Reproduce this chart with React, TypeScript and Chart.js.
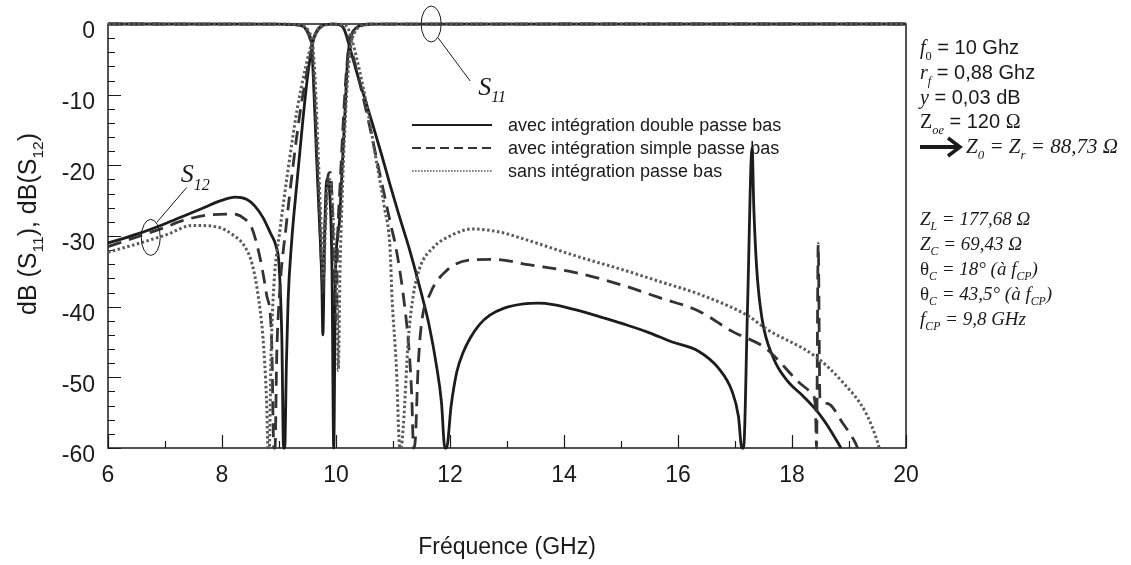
import React, { useEffect, useRef } from 'react';
import { Chart, registerables } from 'chart.js';

Chart.register(...registerables);

// ---------- DATA (GHz / dB) ----------
const freqDoubleS12 = [6, 6.56, 6.99, 7.32, 7.68, 7.98, 8.23, 8.43, 8.57, 8.72, 8.85, 8.95, 9.0, 9.05, 9.08, 9.1, 9.13, 9.16, 9.22, 9.32, 9.42, 9.5, 9.57, 9.64, 9.74, 9.86, 9.96, 10.06, 10.14, 10.22, 10.3, 10.4, 10.5, 10.65, 10.8, 10.95, 11.1, 11.3, 11.5, 11.63, 11.77, 11.85, 11.91, 11.94, 12.02, 12.12, 12.23, 12.35, 12.52, 12.7, 12.95, 13.29, 13.55, 13.81, 14.28, 14.7, 15.1, 15.5, 15.9, 16.36, 16.71, 16.95, 17.06, 17.12, 17.15, 17.22, 17.3, 17.33, 17.38, 17.47, 17.67, 17.92, 18.2, 18.45, 18.66, 18.86];
const dbDoubleS12 = [-31.0, -29.6, -28.3, -27.2, -26.0, -25.0, -24.5, -24.8, -25.7, -27.4, -29.6, -31.5, -34, -44.5, -60, -60, -48, -39, -31, -22, -13.5, -7.5, -3.6, -1.3, -0.3, -0.05, -0.02, -0.1, -0.7, -2.7, -5, -7.8, -10.4, -14.4, -18.5, -22.8, -26.9, -32.2, -38.2, -42.5, -48.7, -53.5, -60, -60, -54, -49.2, -46.5, -44.5, -42.5, -41.2, -40.2, -39.6, -39.5, -39.7, -40.6, -41.6, -42.6, -43.7, -45.0, -46.3, -48.7, -52.0, -55.5, -60, -60, -40, -17.5, -26, -34.5, -41.5, -47.2, -50.5, -52.7, -54.9, -57.3, -60];

const freqSimpleS12 = [6, 6.56, 6.99, 7.32, 7.8, 8.2, 8.4, 8.52, 8.67, 8.78, 8.87, 8.91, 8.93, 8.96, 9.02, 9.12, 9.24, 9.37, 9.49, 9.57, 9.65, 9.76, 9.86, 9.96, 10.06, 10.16, 10.23, 10.36, 10.55, 10.75, 10.95, 11.06, 11.21, 11.29, 11.33, 11.36, 11.39, 11.44, 11.5, 11.65, 11.94, 12.35, 12.76, 13.4, 14.16, 15.0, 15.7, 16.36, 16.95, 17.54, 18.12, 18.35, 18.41, 18.43, 18.46, 18.49, 18.62, 18.9, 19.12, 19.15];
const dbSimpleS12 = [-31.5, -30.0, -28.8, -27.8, -27.0, -26.9, -27.6, -28.8, -33.2, -38.2, -44.5, -60, -60, -47, -37, -29, -20.5, -12.5, -6.8, -3.6, -1.3, -0.3, -0.05, -0.02, -0.1, -0.9, -2.5, -6.5, -13, -20.5, -28, -32, -40.3, -47, -52.9, -60, -59, -48.7, -42.4, -38.2, -34.9, -33.4, -33.3, -34.1, -35.1, -36.9, -38.8, -40.6, -43.5, -45.9, -50.7, -52.3, -54, -60, -31.1, -52.8, -53.7, -56.6, -59.4, -60];

const freqSansS12 = [6, 6.56, 7.03, 7.48, 7.9, 8.22, 8.4, 8.53, 8.63, 8.72, 8.78, 8.81, 8.83, 8.86, 8.91, 9.02, 9.17, 9.32, 9.47, 9.58, 9.68, 9.81, 9.96, 10.11, 10.21, 10.29, 10.41, 10.55, 10.7, 10.85, 10.95, 10.98, 11.06, 11.12, 11.14, 11.18, 11.27, 11.36, 11.47, 11.71, 12.0, 12.4, 12.9, 13.4, 14.28, 15.0, 15.7, 16.36, 17.23, 17.54, 18.42, 18.89, 19.3, 19.51, 19.53];
const dbSansS12 = [-32.3, -31.0, -29.8, -28.5, -28.7, -30.0, -31.5, -34, -38.2, -44.5, -52.9, -60, -60, -47, -37, -29, -20, -12, -6, -2.6, -0.8, -0.15, -0.02, -0.1, -0.6, -2.5, -6.5, -12, -19, -26, -32, -38.2, -48.7, -60, -60, -57, -44.5, -38.2, -34.5, -31.6, -30.0, -29.0, -29.5, -30.7, -33.0, -34.7, -36.5, -38.2, -41.3, -43.1, -47.1, -50.7, -55.1, -59.4, -60];

const freqDoubleS11 = [6, 8.97, 9.27, 9.37, 9.45, 9.5, 9.54, 9.57, 9.61, 9.66, 9.71, 9.75, 9.77, 9.8, 9.84, 9.89, 9.93, 9.96, 9.99, 10.03, 10.06, 10.11, 10.16, 10.2, 10.24, 10.29, 10.36, 10.45, 10.6, 10.95, 20];
const dbDoubleS11 = [0, -0.02, -0.1, -0.2, -0.5, -1.0, -1.7, -2.6, -9, -19, -28, -36, -44, -30, -22, -24, -35, -60, -36, -30, -28, -20, -12, -5.5, -2.5, -1.2, -0.5, -0.15, -0.03, -0.01, 0];

const freqSimpleS11 = [6, 8.97, 9.32, 9.42, 9.49, 9.54, 9.58, 9.63, 9.68, 9.73, 9.77, 9.81, 9.85, 9.9, 9.94, 9.96, 10.0, 10.03, 10.07, 10.12, 10.17, 10.22, 10.27, 10.34, 10.45, 10.6, 10.95, 20];
const dbSimpleS11 = [0, -0.02, -0.1, -0.4, -1.0, -2.0, -3.5, -11, -21, -31, -38, -28, -22, -21, -27, -35, -42, -30, -23, -15, -8, -3.5, -1.6, -0.6, -0.15, -0.03, -0.01, 0];

const freqSansS11 = [6, 8.97, 9.37, 9.47, 9.53, 9.59, 9.64, 9.69, 9.74, 9.78, 9.81, 9.85, 9.89, 9.94, 9.98, 10.02, 10.04, 10.07, 10.11, 10.16, 10.21, 10.26, 10.32, 10.39, 10.51, 10.66, 10.95, 20];
const dbSansS11 = [0, -0.02, -0.1, -0.5, -1.2, -2.8, -9, -19, -29, -36, -30, -23, -22, -26, -33, -40, -49, -35, -24, -14, -7, -3, -1.3, -0.5, -0.15, -0.03, -0.01, 0];

const legendLabels = [
  'avec intégration double passe bas',
  'avec intégration simple passe bas',
  'sans intégration passe bas',
];

const xMin = 6, xMax = 20, xStep = 2;
const yMin = -60, yMax = 0, yStep = 10;
const xMinorTicks = [6, 7, 8, 9, 10, 11, 12, 13, 14, 15, 16, 17, 18, 19, 20];
const yMinorTicks = [0, -2, -4, -6, -8, -10, -12, -14, -16, -18, -20, -22, -24, -26, -28, -30, -32, -34, -36, -38, -40, -42, -44, -46, -48, -50, -52, -54, -56, -58, -60];

const xTitle = 'Fréquence (GHz)';
// callout anchors (data coordinates)
const s11Anchor = { x: 11.67, y: 0 };
const s12Anchor = { x: 6.75, y: -30.2 };

// ---------- STYLES ----------
const SANS = '"Liberation Sans", Arial, sans-serif';
const SERIF = '"Liberation Serif", "Times New Roman", serif';
const styles = [
  { color: '#1e1b1b', width: 2.8, dash: [] as number[] },
  { color: '#333333', width: 2.8, dash: [14, 8] },
  { color: '#5a5a5a', width: 3, dash: [2.5, 2.5] },
];

type Run = { t: string; serif?: boolean; it?: boolean; sub?: boolean };

function drawRuns(ctx: CanvasRenderingContext2D, x: number, y: number, runs: Run[], size: number, measureOnly = false) {
  let cx = x;
  for (const r of runs) {
    const s = r.sub ? size * 0.62 : size;
    ctx.font = `${r.it ? 'italic ' : ''}${s}px ${r.serif ? SERIF : SANS}`;
    if (!measureOnly) ctx.fillText(r.t, cx, y + (r.sub ? size * 0.28 : 0));
    cx += ctx.measureText(r.t).width;
  }
  return cx - x;
}

const paramsTop: Run[][] = [
  [{ t: 'f', serif: true, it: true }, { t: '0', serif: true, sub: true }, { t: ' = 10 Ghz' }],
  [{ t: 'r', serif: true, it: true }, { t: 'f', serif: true, it: true, sub: true }, { t: ' = 0,88 Ghz' }],
  [{ t: 'y', serif: true, it: true }, { t: ' = 0,03 dB' }],
  [{ t: 'Z', serif: true }, { t: 'oe', serif: true, it: true, sub: true }, { t: ' = 120 ' }, { t: 'Ω', serif: true }],
];
const paramArrow: Run[] = [
  { t: 'Z', serif: true, it: true }, { t: '0', serif: true, it: true, sub: true },
  { t: ' = Z', serif: true, it: true }, { t: 'r', serif: true, it: true, sub: true },
  { t: ' = 88,73 Ω', serif: true, it: true },
];
const paramsBottom: Run[][] = [
  [{ t: 'Z', serif: true, it: true }, { t: 'L', serif: true, it: true, sub: true }, { t: ' = 177,68 Ω', serif: true, it: true }],
  [{ t: 'Z', serif: true, it: true }, { t: 'C', serif: true, it: true, sub: true }, { t: ' = 69,43 Ω', serif: true, it: true }],
  [{ t: 'θ', serif: true }, { t: 'C', serif: true, it: true, sub: true }, { t: ' = 18° (à ', serif: true, it: true }, { t: 'f', serif: true, it: true }, { t: 'CP', serif: true, it: true, sub: true }, { t: ')', serif: true, it: true }],
  [{ t: 'θ', serif: true }, { t: 'C', serif: true, it: true, sub: true }, { t: ' = 43,5° (à ', serif: true, it: true }, { t: 'f', serif: true, it: true }, { t: 'CP', serif: true, it: true, sub: true }, { t: ')', serif: true, it: true }],
  [{ t: 'f', serif: true, it: true }, { t: 'CP', serif: true, it: true, sub: true }, { t: ' = 9,8 GHz', serif: true, it: true }],
];
const yTitleRuns: Run[] = [{ t: 'dB (S' }, { t: '11', sub: true }, { t: '), dB(S' }, { t: '12', sub: true }, { t: ')' }];

const framePlugin = {
  id: 'frameTicks',
  beforeDatasetsDraw(chart: any) {
    const { ctx, chartArea: a, scales } = chart;
    const x = scales.x, y = scales.y;
    ctx.save();
    ctx.strokeStyle = '#1a1a1a';
    ctx.lineWidth = 1.5;
    ctx.strokeRect(a.left, a.top, a.right - a.left, a.bottom - a.top);
    ctx.lineWidth = 1.2;
    ctx.beginPath();
    for (const v of xMinorTicks) {
      const px = Math.round(x.getPixelForValue(v)) + 0.5;
      const len = v % 2 === 0 ? 13 : 7;
      ctx.moveTo(px, a.bottom);
      ctx.lineTo(px, a.bottom - len);
    }
    for (const v of yMinorTicks) {
      const py = Math.round(y.getPixelForValue(v)) + 0.5;
      const len = v % 10 === 0 ? 13 : 7;
      ctx.moveTo(a.left, py);
      ctx.lineTo(a.left + len, py);
    }
    ctx.stroke();
    ctx.restore();
  },
  afterDraw(chart: any) {
    const { ctx, chartArea: a, scales } = chart;
    const x = scales.x, y = scales.y;
    ctx.save();
    ctx.fillStyle = '#1a1a1a';
    ctx.strokeStyle = '#1a1a1a';
    ctx.textBaseline = 'alphabetic';

    // y title (rotated)
    ctx.save();
    ctx.translate(36, 224);
    ctx.rotate(-Math.PI / 2);
    const tw = drawRuns(ctx, 0, 0, yTitleRuns, 25, true);
    drawRuns(ctx, -tw / 2, 0, yTitleRuns, 25);
    ctx.restore();

    // legend
    const lx0 = 412, lx1 = 492, tx = 508;
    const rows = [125, 148, 171];
    rows.forEach((ry, i) => {
      ctx.save();
      ctx.strokeStyle = styles[i].color;
      ctx.lineWidth = i === 2 ? 1.6 : 2;
      ctx.setLineDash(i === 0 ? [] : i === 1 ? [9, 5] : [1.6, 1.4]);
      ctx.beginPath();
      ctx.moveTo(lx0, ry);
      ctx.lineTo(lx1, ry);
      ctx.stroke();
      ctx.restore();
      ctx.font = `18px ${SANS}`;
      ctx.textBaseline = 'middle';
      ctx.fillText(legendLabels[i], tx, ry + 1);
      ctx.textBaseline = 'alphabetic';
    });

    // S11 / S12 callouts
    ctx.lineWidth = 1;
    const c11x = x.getPixelForValue(s11Anchor.x), c11y = y.getPixelForValue(s11Anchor.y);
    ctx.beginPath();
    ctx.ellipse(c11x, c11y, 10, 18, 0, 0, Math.PI * 2);
    ctx.stroke();
    ctx.beginPath();
    ctx.moveTo(c11x + 7, c11y + 14);
    ctx.lineTo(c11x + 39, c11y + 57);
    ctx.stroke();
    drawRuns(ctx, c11x + 47, c11y + 71, [{ t: 'S', serif: true, it: true }, { t: '11', serif: true, it: true, sub: true }], 26);

    const c12x = x.getPixelForValue(s12Anchor.x), c12y = y.getPixelForValue(s12Anchor.y);
    ctx.beginPath();
    ctx.ellipse(c12x, c12y, 9.5, 18, 0, 0, Math.PI * 2);
    ctx.stroke();
    ctx.beginPath();
    ctx.moveTo(c12x + 6, c12y - 15);
    ctx.lineTo(c12x + 36, c12y - 50);
    ctx.stroke();
    drawRuns(ctx, c12x + 30, c12y - 55, [{ t: 'S', serif: true, it: true }, { t: '12', serif: true, it: true, sub: true }], 26);

    // parameters on the right
    const px0 = a.right + 14;
    const topBase = [54, 79, 104, 128];
    paramsTop.forEach((runs, i) => drawRuns(ctx, px0, topBase[i], runs, 20));
    // arrow
    const ay = 147;
    ctx.lineWidth = 4;
    ctx.beginPath();
    ctx.moveTo(px0, ay);
    ctx.lineTo(px0 + 38, ay);
    ctx.stroke();
    ctx.lineWidth = 3.5;
    ctx.beginPath();
    ctx.moveTo(px0 + 28, ay - 9);
    ctx.lineTo(px0 + 40, ay);
    ctx.lineTo(px0 + 28, ay + 9);
    ctx.stroke();
    drawRuns(ctx, px0 + 46, 153, paramArrow, 21);
    const botBase = [225, 250, 275, 300, 325];
    paramsBottom.forEach((runs, i) => drawRuns(ctx, px0, botBase[i], runs, 19));
    ctx.restore();
  },
};

function pts(fs: number[], ds: number[]) {
  return fs.map((f, i) => ({ x: f, y: ds[i] }));
}

export default function App() {
  const ref = useRef<HTMLCanvasElement | null>(null);
  useEffect(() => {
    if (!ref.current) return;
    const mk = (data: any[], i: number) => ({
      data,
      borderColor: styles[i].color,
      borderWidth: styles[i].width,
      borderDash: styles[i].dash,
      pointRadius: 0,
      fill: false,
      cubicInterpolationMode: 'monotone' as const,
      clip: 5,
    });
    const chart = new Chart(ref.current, {
      type: 'line',
      data: {
        datasets: [
          { label: legendLabels[2] + ' S12', ...mk(pts(freqSansS12, dbSansS12), 2) },
          { label: legendLabels[2] + ' S11', ...mk(pts(freqSansS11, dbSansS11), 2) },
          { label: legendLabels[1] + ' S12', ...mk(pts(freqSimpleS12, dbSimpleS12), 1) },
          { label: legendLabels[1] + ' S11', ...mk(pts(freqSimpleS11, dbSimpleS11), 1) },
          { label: legendLabels[0] + ' S12', ...mk(pts(freqDoubleS12, dbDoubleS12), 0) },
          { label: legendLabels[0] + ' S11', ...mk(pts(freqDoubleS11, dbDoubleS11), 0) },
        ],
      },
      options: {
        responsive: false,
        animation: false,
        devicePixelRatio: 1,
        layout: { padding: { left: 0, top: 24, right: 225, bottom: 0 } },
        plugins: { legend: { display: false }, tooltip: { enabled: false } },
        scales: {
          x: {
            type: 'linear',
            min: xMin,
            max: xMax,
            grid: { display: false, drawTicks: false },
            border: { display: false },
            ticks: { stepSize: xStep, color: '#1a1a1a', font: { family: SANS, size: 23 }, padding: 14 },
            title: { display: true, text: xTitle, color: '#1a1a1a', font: { family: SANS, size: 23 }, padding: { top: 0, bottom: 4 } },
            afterFit: (s: any) => { s.height = 117; s.paddingLeft = 0; s.paddingRight = 0; },
          },
          y: {
            type: 'linear',
            min: yMin,
            max: yMax,
            grid: { display: false, drawTicks: false },
            border: { display: false },
            ticks: { stepSize: yStep, color: '#1a1a1a', font: { family: SANS, size: 23 }, padding: 13, labelOffset: 8 },
            afterFit: (s: any) => { s.width = 108; s.paddingTop = 0; s.paddingBottom = 0; },
          },
        },
      },
      plugins: [framePlugin],
    });
    return () => chart.destroy();
  }, []);
  return (
    <div style={{ position: 'absolute', left: 0, top: 0, width: 1131, height: 565, background: '#fff' }}>
      <canvas ref={ref} width={1131} height={565} />
    </div>
  );
}
